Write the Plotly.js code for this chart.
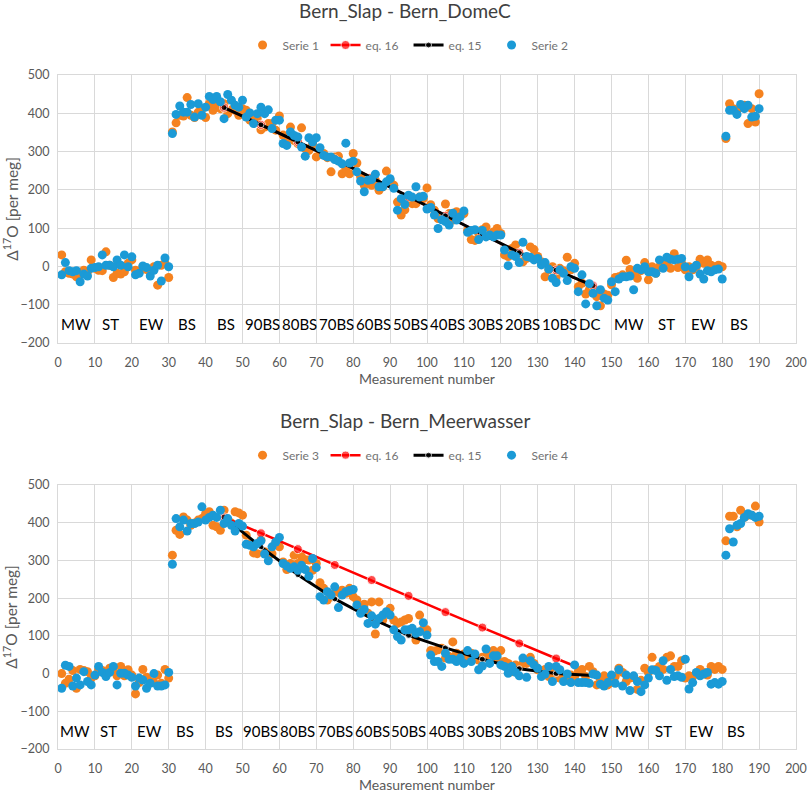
<!DOCTYPE html>
<html>
<head>
<meta charset="utf-8">
<script src="https://cdn.plot.ly/plotly-3.0.1.min.js"></script>
<style>
  body { margin: 0; background: #fff; }
  #graphDiv { width: 809px; height: 796px; }
</style>
</head>
<body>
<div id="graphDiv"></div>
<script>
// measurement numbers 1..190
const measurement = Array.from({length: 190}, (_, i) => i + 1);

// Bern_Slap - Bern_DomeC
const serie1 = [
  30, -14, -18, -20, -27, -18, -10, -14, 17, -5,
  -10, -11, 38, 3, -29, -18, -20, -14, 8, 17,
  -10, -14, -1, -8, -14, -1, -49, 3, 8, -29,
  351, 375, 395, 393, 441, 395, 389, 403, 412, 389,
  425, 408, 425, 412, 425, 399, 409, 408, 395, 412,
  408, 382, 386, 386, 357, 364, 373, 373, 356, 393,
  343, 329, 364, 329, 321, 362, 308, 303, 319, 286,
  293, 295, 284, 247, 286, 288, 242, 255, 242, 295,
  270, 234, 212, 221, 212, 225, 199, 208, 249, 225,
  212, 168, 134, 148, 173, 164, 164, 181, 177, 205,
  161, 147, 125, 130, 163, 138, 121, 143, 134, 138,
  94, 70, 68, 86, 96, 103, 82, 90, 99, 86,
  30, 26, 47, 56, 34, 12, 21, 51, 44, 26,
  12, -27, -9, -1, -27, -5, -11, 24, -9, 8,
  -53, -44, -72, -61, -57, -79, -103, -72, -75, -48,
  -29, -27, -22, 16, -8, -20, -31, -11, 10, -35,
  -1, -18, -1, 8, 8, -5, 33, -3, 8, -9,
  -1, -9, -1, 19, 8, 17, 3, -1, 3, -1,
  334, 425, 412, 408, 416, 421, 373, 412, 377, 451
];
const serie2 = [
  -22, 10, -11, -14, -11, -40, -20, -25, -5, -3,
  -1, 30, 3, 3, -1, 17, 3, 30, -1, 25,
  -22, -18, 1, -3, -25, -10, 3, -38, 22, -1,
  347, 397, 419, 403, 403, 423, 390, 425, 395, 416,
  444, 436, 444, 430, 386, 449, 434, 421, 416, 434,
  390, 401, 373, 399, 416, 399, 409, 360, 382, 382,
  321, 316, 351, 342, 338, 312, 288, 336, 325, 336,
  310, 290, 286, 286, 279, 275, 268, 322, 270, 275,
  247, 223, 195, 225, 227, 241, 208, 208, 221, 229,
  204, 147, 177, 162, 186, 181, 208, 181, 183, 150,
  154, 134, 99, 122, 117, 108, 139, 121, 130, 145,
  89, 94, 96, 70, 94, 77, 82, 77, 82, 82,
  43, 2, 30, 26, 10, 63, 26, 24, 17, 21,
  4, 10, -7, -31, -42, -9, -18, -37, -1, -5,
  -66, -22, -98, -45, -70, -103, -61, -83, -88, -40,
  -66, -33, -27, -27, -25, -61, -5, -9, -1, -14,
  -14, -18, 17, -5, 24, 19, 17, 19, 21, -1,
  -27, -5, 3, -20, -33, -11, -14, -9, -7, -33,
  340, 408, 408, 397, 423, 412, 421, 390, 392, 412
];

// Bern_Slap - Bern_Meerwasser
const serie3 = [
  0, -26, -15, 8, -39, 11, 8, 5, -12, -6,
  11, 8, -4, 14, 8, -6, 19, -6, 10, -4,
  -54, -24, 11, -10, -21, -24, -4, -26, 11, -12,
  314, 380, 369, 415, 407, 393, 399, 407, 411, 424,
  429, 393, 389, 380, 433, 408, 399, 429, 426, 420,
  367, 345, 320, 318, 354, 323, 314, 318, 345, 336,
  296, 276, 292, 314, 292, 310, 302, 301, 274, 292,
  241, 226, 195, 204, 213, 217, 221, 213, 226, 204,
  195, 173, 184, 160, 190, 105, 190, 142, 160, 173,
  142, 133, 137, 142, 146, 107, 89, 155, 117, 116,
  61, 60, 63, 67, 41, 45, 84, 54, 47, 52,
  45, 54, 45, 36, 43, 45, 54, 61, 41, 61,
  32, 27, 5, 23, 19, 27, 27, 43, 27, 10,
  5, 11, -8, 10, 1, -12, -6, -17, -4, -8,
  5, 11, -8, 19, 5, -30, -15, -6, -30, -12,
  -8, 14, 3, -21, -12, -10, -42, -18, 14, 3,
  43, 11, 19, 11, 43, 47, 19, 19, 34, -12,
  -6, -8, 1, 11, 3, -4, 19, 11, 19, 11,
  352, 417, 417, 389, 433, 414, 420, 420, 444, 402
];
const serie4 = [
  -39, 22, 19, -33, -12, -30, 5, -21, -30, -4,
  19, 3, -8, 3, 19, -30, 1, 1, -4, -10,
  -33, -12, -17, -39, -26, 0, -33, -33, -30, 3,
  290, 411, 389, 407, 378, 398, 398, 402, 442, 407,
  414, 420, 414, 433, 398, 411, 393, 378, 398, 391,
  343, 340, 336, 345, 352, 317, 299, 336, 349, 361,
  292, 285, 279, 283, 274, 287, 276, 258, 305, 281,
  204, 195, 217, 208, 230, 175, 208, 217, 220, 223,
  182, 160, 170, 133, 153, 131, 146, 155, 164, 155,
  116, 98, 89, 116, 116, 120, 107, 111, 135, 102,
  49, 32, 32, 19, 54, 38, 38, 32, 41, 27,
  61, 32, 52, 10, 20, 65, 27, 47, 47, 23,
  19, 1, 19, 3, -6, 41, -10, 34, 23, 14,
  -8, -1, 19, -21, 19, 10, -21, -1, -24, 23,
  -24, -24, -24, -26, -1, -4, -28, -33, -24, -4,
  -26, 10, -33, -4, -45, -6, -21, -48, -30, -12,
  10, 8, -6, 34, -18, 11, -8, -6, -10, 38,
  -41, -24, 3, -6, -1, 3, -28, -24, -28, -21,
  314, 384, 349, 393, 398, 414, 424, 420, 414, 417
];

// model lines
const eqTopX = [45, 55, 65, 75, 85, 95, 105, 115, 125, 135, 145];
const eq15Top = [415, 370, 325, 280, 232, 182, 132, 84, 36, -10, -50];
const eq16Top = [415, 370, 325, 280, 232, 182, 132, 84, 36, -10, -50];

const eq16BotX = [45, 55, 65, 75, 85, 95, 105, 115, 125, 135, 140];
const eq16Bot = [414, 372, 330, 288, 248, 206, 163, 122, 80, 40, 20];
const eq15BotX = [45, 55, 65, 75, 85, 95, 105, 115, 125, 135, 145];
const eq15Bot = [415, 336, 262, 198, 146, 101, 68, 38, 13, 0, -5];

// sample labels inside the plots
const topLabels = ["MW", "ST", "EW", "BS", "BS", "90BS", "80BS", "70BS", "60BS", "50BS",
                   "40BS", "30BS", "20BS", "10BS", "DC", "MW", "ST", "EW", "BS"];
const topLabelX = [5, 14.1, 25.4, 35, 45.5, 55.4, 65.5, 75.6, 85.6, 95.6,
                   105.6, 115.8, 125.8, 135.9, 144.1, 154.7, 164.8, 174.9, 184.5];
const botLabels = ["MW", "ST", "EW", "BS", "BS", "90BS", "80BS", "70BS", "60BS", "50BS",
                   "40BS", "30BS", "20BS", "10BS", "MW", "MW", "ST", "EW", "BS"];
const botLabelX = [4.7, 13.7, 24.9, 34.5, 45.1, 54.8, 65, 75.2, 85.1, 95.1,
                   105.3, 115.5, 125.5, 135.6, 145.2, 155, 164.1, 174.3, 183.8];

const ORANGE = "#F5821F";
const BLUE = "#1B9AD6";
const FONT = "Lato, 'Open Sans', sans-serif";

function dots(x, y, name, color, xa, ya, legend) {
  return {x: x, y: y, name: name, mode: "markers", type: "scatter",
          xaxis: xa, yaxis: ya, legend: legend,
          marker: {size: 9, color: color}};
}
function line(x, y, name, color, width, msize, xa, ya, legend) {
  return {x: x, y: y, name: name, mode: "lines+markers", type: "scatter",
          xaxis: xa, yaxis: ya, legend: legend,
          line: {color: color, width: width},
          marker: {color: color, size: x.map((v) => v % 10 === 5 ? msize : 0)}};
}

const traces = [
  dots(measurement, serie1, "Serie 1", ORANGE, "x", "y", "legend"),
  line(eqTopX, eq16Top, "eq. 16", "#FF0000", 2.5, 9, "x", "y", "legend"),
  line(eqTopX, eq15Top, "eq. 15", "#000000", 3, 6, "x", "y", "legend"),
  dots(measurement, serie2, "Serie 2", BLUE, "x", "y", "legend"),
  dots(measurement, serie3, "Serie 3", ORANGE, "x2", "y2", "legend2"),
  line(eq16BotX, eq16Bot, "eq. 16", "#FF0000", 2.5, 9, "x2", "y2", "legend2"),
  line(eq15BotX, eq15Bot, "eq. 15", "#000000", 3, 6, "x2", "y2", "legend2"),
  dots(measurement, serie4, "Serie 4", BLUE, "x2", "y2", "legend2")
];

function xax(anchor) {
  return {anchor: anchor, range: [0, 200], dtick: 10, tick0: 0,
          showgrid: true, gridcolor: "#d9d9d9", zeroline: false,
          showline: true, mirror: true, linecolor: "#d9d9d9",
          ticks: "", ticklabelstandoff: 8, tickfont: {size: 12.5, color: "#595959"},
          title: {text: "Measurement number", font: {size: 14, color: "#595959"}, standoff: 4}};
}
function yax(anchor, domain) {
  return {anchor: anchor, domain: domain, range: [-200, 500], dtick: 100,
          showgrid: true, gridcolor: "#d9d9d9", zeroline: false,
          showline: true, mirror: true, linecolor: "#d9d9d9",
          ticks: "", ticklabelstandoff: 5, tickfont: {size: 12.5, color: "#595959"},
          title: {text: "Δ<sup>17</sup>O [per meg]", font: {size: 15.5, color: "#595959"}, standoff: 3}};
}
function legendAt(y) {
  return {orientation: "h", x: 0.475, xanchor: "center", y: y, yanchor: "middle",
          font: {size: 12, color: "#737373"}, bgcolor: "rgba(0,0,0,0)",
          entrywidth: 38, entrywidthmode: "pixels", traceorder: "normal"};
}

const annotations = [
  {text: "Bern_Slap - Bern_DomeC", xref: "paper", yref: "paper", x: 0.47, y: 1.095,
   yanchor: "middle", showarrow: false, font: {size: 19, color: "#404040"}},
  {text: "Bern_Slap - Bern_Meerwasser", xref: "paper", yref: "paper", x: 0.47, y: 0.488,
   yanchor: "middle", showarrow: false, font: {size: 19, color: "#404040"}}
].concat(
  topLabels.map((t, i) => ({text: t, x: topLabelX[i], y: -150, xref: "x", yref: "y",
    showarrow: false, font: {size: 15, color: "#000"}})),
  botLabels.map((t, i) => ({text: t, x: botLabelX[i], y: -152, xref: "x2", yref: "y2",
    showarrow: false, font: {size: 15, color: "#000"}}))
);

const layout = {
  width: 809, height: 796,
  margin: {l: 58, r: 13, t: 75, b: 47},
  paper_bgcolor: "#fff", plot_bgcolor: "#fff",
  font: {family: FONT, color: "#595959"},
  showlegend: true,
  legend: legendAt(1.0445),
  legend2: legendAt(0.436),
  xaxis: xax("y"),
  yaxis: yax("x", [0.6024, 1]),
  xaxis2: xax("y2"),
  yaxis2: yax("x2", [0, 0.3917]),
  annotations: annotations
};

Plotly.newPlot("graphDiv", traces, layout, {displayModeBar: false});
</script>
</body>
</html>
